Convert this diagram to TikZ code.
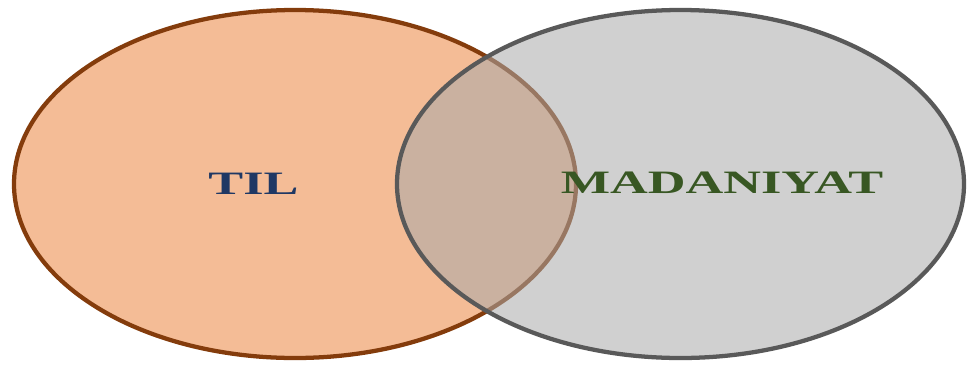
\documentclass[tikz,border=0pt]{standalone}
\usepackage{fontspec}
\usepackage{graphicx}
\setmainfont{Liberation Serif}
\usetikzlibrary{shapes.geometric}
\definecolor{tilfill}{HTML}{F4BC96}
\definecolor{tilline}{HTML}{843C0C}
\definecolor{madfill}{HTML}{A9A9A9}
\definecolor{madline}{HTML}{595959}
\definecolor{tiltext}{HTML}{1F3864}
\definecolor{madtext}{HTML}{385723}
\tikzset{
  venn/.style={ellipse, inner sep=0pt, line width=3.2pt},
  vlabel/.style={inner sep=0pt, font=\fontsize{24.5}{28}\selectfont\bfseries}
}
\begin{document}
\begin{tikzpicture}[x=0.75pt, y=-0.75pt]
\useasboundingbox (0,0) rectangle (968,365);
\node[venn, draw=tilline, fill=tilfill, minimum width=562*0.75pt, minimum height=348*0.75pt] (til) at (295,184) {};
\node[venn, draw=madline, fill=madfill, fill opacity=0.55, draw opacity=1, minimum width=567*0.75pt, minimum height=348*0.75pt] (mad) at (680.5,184) {};
\node[vlabel, text=tiltext] (tiltxt) at (253.5,184) {\scalebox{1.6}[1]{TIL}};
\node[vlabel, text=madtext] (madtxt) at (722,183) {\scalebox{1.6}[1]{MADANIYAT}};
\end{tikzpicture}
\end{document}
